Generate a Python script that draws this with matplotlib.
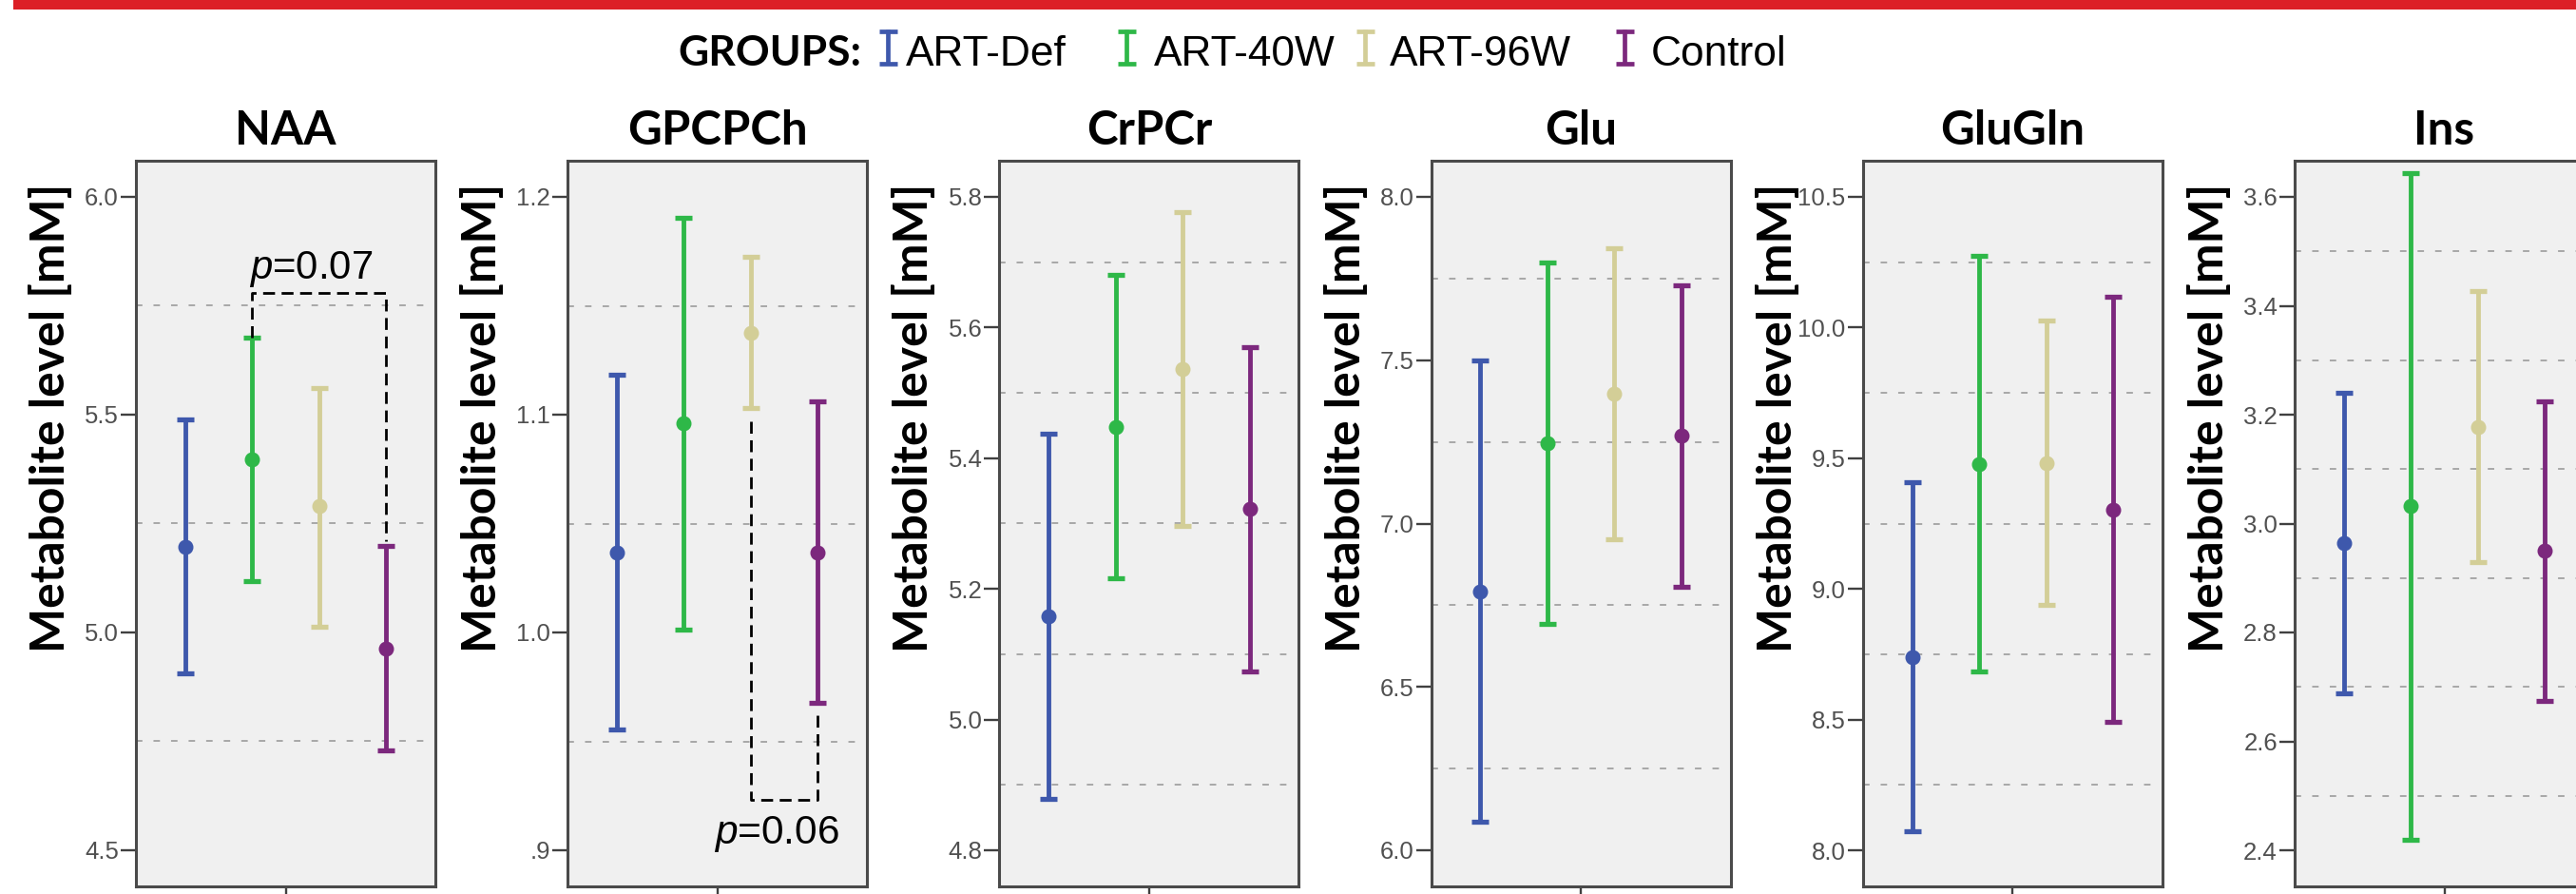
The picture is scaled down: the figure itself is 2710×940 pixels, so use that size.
import matplotlib
matplotlib.use("Agg")
import matplotlib.pyplot as plt
from matplotlib.patches import Rectangle
from matplotlib import font_manager as fm

W, H = 2710, 940
DPI = 100

# ---------------- data ----------------
groups = ["ART-Def", "ART-40W", "ART-96W", "Control"]
group_colors = ["#3E58AC", "#2EB848", "#D3CE97", "#7C287D"]
metabolites = ["NAA", "GPCPCh", "CrPCr", "Glu", "GluGln", "Ins"]

naa_mean = [5.197, 5.398, 5.290, 4.963]
naa_low = [4.907, 5.118, 5.013, 4.730]
naa_high = [5.489, 5.676, 5.562, 5.199]
naa_ticks = [4.5, 5.0, 5.5, 6.0]
naa_ticklabels = ["4.5", "5.0", "5.5", "6.0"]

gpc_mean = [1.0366, 1.0961, 1.1377, 1.0366]
gpc_low = [0.9553, 1.0015, 1.1029, 0.9675]
gpc_high = [1.1185, 1.1904, 1.1724, 1.1059]
gpc_ticks = [0.9, 1.0, 1.1, 1.2]
gpc_ticklabels = [".9", "1.0", "1.1", "1.2"]

cr_mean = [5.158, 5.4475, 5.537, 5.323]
cr_low = [4.879, 5.216, 5.297, 5.074]
cr_high = [5.437, 5.680, 5.777, 5.570]
cr_ticks = [4.8, 5.0, 5.2, 5.4, 5.6, 5.8]
cr_ticklabels = ["4.8", "5.0", "5.2", "5.4", "5.6", "5.8"]

glu_mean = [6.793, 7.246, 7.398, 7.269]
glu_low = [6.087, 6.692, 6.951, 6.806]
glu_high = [7.498, 7.800, 7.844, 7.730]
glu_ticks = [6.0, 6.5, 7.0, 7.5, 8.0]
glu_ticklabels = ["6.0", "6.5", "7.0", "7.5", "8.0"]

glx_mean = [8.739, 9.479, 9.481, 9.304]
glx_low = [8.072, 8.684, 8.939, 8.491]
glx_high = [9.407, 10.274, 10.027, 10.118]
glx_ticks = [8.0, 8.5, 9.0, 9.5, 10.0, 10.5]
glx_ticklabels = ["8.0", "8.5", "9.0", "9.5", "10.0", "10.5"]

ins_mean = [2.964, 3.032, 3.178, 2.951]
ins_low = [2.688, 2.419, 2.929, 2.675]
ins_high = [3.241, 3.644, 3.427, 3.225]
ins_ticks = [2.4, 2.6, 2.8, 3.0, 3.2, 3.4, 3.6]
ins_ticklabels = ["2.4", "2.6", "2.8", "3.0", "3.2", "3.4", "3.6"]

# significance annotations
naa_p_label = "$p$=0.07"
naa_p_pair = (2, 4)
naa_bracket_y = 5.78
naa_p_text_y = 5.812

gpc_p_label = "$p$=0.06"
gpc_p_pair = (3, 4)
gpc_bracket_y = 0.923
gpc_p_text_y = 0.903

ylabel = "Metabolite level [mM]"
legend_title = "GROUPS:"

panels = [
    (naa_mean, naa_low, naa_high, naa_ticks, naa_ticklabels),
    (gpc_mean, gpc_low, gpc_high, gpc_ticks, gpc_ticklabels),
    (cr_mean, cr_low, cr_high, cr_ticks, cr_ticklabels),
    (glu_mean, glu_low, glu_high, glu_ticks, glu_ticklabels),
    (glx_mean, glx_low, glx_high, glx_ticks, glx_ticklabels),
    (ins_mean, ins_low, ins_high, ins_ticks, ins_ticklabels),
]

# ---------------- fonts ----------------
def has_font(name):
    try:
        fm.findfont(fm.FontProperties(family=name), fallback_to_default=False)
        return True
    except Exception:
        return False

if has_font("Liberation Sans Narrow"):
    tick_font = "Liberation Sans Narrow"
    tick_size = 21
else:
    tick_font = "Liberation Sans"
    tick_size = 18.5
bold_font = "Lato"

plt.rcParams['mathtext.fontset'] = 'custom'
plt.rcParams['mathtext.it'] = tick_font + ':italic'
plt.rcParams['mathtext.rm'] = tick_font

# ---------------- layout ----------------
fig = plt.figure(figsize=(W / DPI, H / DPI), dpi=DPI)
fig.patch.set_facecolor("white")

PANEL_LEFT0 = 143
PANEL_STEP = 454.2
PANEL_W = 315
PANEL_TOP = 169
PANEL_BOT = 932
TICK_TOP = 207
TICK_BOT = 894

x_pos = [1, 2, 3, 4]

axes = []
ylabels = []
for i, (name, (mean, low, high, ticks, tlabels)) in enumerate(zip(metabolites, panels)):
    left = PANEL_LEFT0 + PANEL_STEP * i
    ax = fig.add_axes([left / W, (H - PANEL_BOT) / H, PANEL_W / W, (PANEL_BOT - PANEL_TOP) / H])
    axes.append(ax)
    ax.set_facecolor("#F0F0F0")
    span = ticks[-1] - ticks[0]
    pad = (TICK_TOP - PANEL_TOP) / (TICK_BOT - TICK_TOP) * span
    ax.set_ylim(ticks[0] - pad, ticks[-1] + pad)
    ax.set_xlim(0.265, 4.735)

    # dashed grid lines midway between major ticks
    for a, b in zip(ticks[:-1], ticks[1:]):
        ax.axhline((a + b) / 2, color="#A8A8A8", lw=1.4, ls=(0, (3.5, 6.0)), zorder=0.5)

    for xi, m, lo, hi, c in zip(x_pos, mean, low, high, group_colors):
        ax.errorbar([xi], [m], yerr=[[m - lo], [hi - m]], fmt="o", color=c,
                    ms=10.5, mec=c, elinewidth=3.5, capsize=6.8, capthick=3.8, zorder=3)

    ax.set_yticks(ticks)
    ax.set_yticklabels(tlabels, fontfamily=tick_font, fontsize=tick_size, color="#505050")
    ax.set_xticks([2.5])
    ax.set_xticklabels([""])
    ax.tick_params(axis="y", direction="out", length=11.5, width=1.7, color="#404040", pad=1.5)
    ax.tick_params(axis="x", direction="out", length=12, width=1.7, color="#404040")
    for s in ax.spines.values():
        s.set_color("#4A4A4A")
        s.set_linewidth(2.2)

    cx = (left + PANEL_W / 2) / W
    fig.text(cx, 1 - 152 / H, name, ha="center", va="baseline",
             fontfamily=bold_font, fontweight="bold", fontsize=35.5, color="black")
    ylabels.append(fig.text((left - 90) / W, 1 - 439 / H, ylabel, rotation=90,
                            ha="center", va="center", fontfamily=bold_font,
                            fontweight="bold", fontsize=36, color="black"))

# significance brackets
def bracket(ax, pair, y, ends, style_kw):
    xa, xb = pair
    ax.plot([xa, xa, xb, xb], [ends[0], y, y, ends[1]], **style_kw)

bk = dict(color="black", lw=2.0, ls=(0, (4.5, 2.5)), zorder=4, solid_capstyle="butt")
ax0 = axes[0]
bracket(ax0, naa_p_pair, naa_bracket_y,
        (naa_high[naa_p_pair[0] - 1], naa_high[naa_p_pair[1] - 1] + 0.01), bk)
pt0 = ax0.text(naa_p_pair[0] - 0.04, naa_p_text_y, naa_p_label, ha="left", va="baseline",
               fontfamily=tick_font, fontsize=30, color="black", zorder=5)

ax1 = axes[1]
bracket(ax1, gpc_p_pair, gpc_bracket_y,
        (gpc_low[gpc_p_pair[0] - 1] - 0.006, gpc_low[gpc_p_pair[1] - 1] - 0.003), bk)
pt1 = ax1.text((gpc_p_pair[0] + gpc_p_pair[1]) / 2 - 0.12, gpc_p_text_y, gpc_p_label,
               ha="center", va="baseline", fontfamily=tick_font, fontsize=30,
               color="black", zorder=5)

# ---------------- overlay: red bar + legend ----------------
ov = fig.add_axes([0, 0, 1, 1], zorder=10)
ov.set_xlim(0, W)
ov.set_ylim(H, 0)
ov.axis("off")
ov.patch.set_alpha(0)
ov.add_patch(Rectangle((14, 0), W - 14, 10, color="#DC1F26", lw=0))

gt = ov.text(713, 69, legend_title, ha="left", va="baseline", fontfamily=bold_font,
             fontweight="bold", fontsize=34, color="black")

marker_x = [934, 1185, 1436, 1709]
label_x = [953, 1214, 1462, 1737]
label_w = [184, 188, 188, 133]
leg_texts = []
for g, c, mx, lx in zip(groups, group_colors, marker_x, label_x):
    ov.plot([mx, mx], [31, 68], color=c, lw=3.4, solid_capstyle="butt")
    ov.plot([mx - 9.5, mx + 9.5], [32.5, 32.5], color=c, lw=3.4, solid_capstyle="butt")
    ov.plot([mx - 9.5, mx + 9.5], [66.5, 66.5], color=c, lw=3.4, solid_capstyle="butt")
    leg_texts.append(ov.text(lx, 69, g, ha="left", va="baseline", fontfamily=tick_font,
                             fontsize=31, color="black"))

# fit text sizes to the measured extents of the reference
fig.canvas.draw()
r = fig.canvas.get_renderer()

def fit(t, target, dim="w"):
    bb = t.get_window_extent(renderer=r)
    cur = bb.width if dim == "w" else bb.height
    if cur > 0:
        t.set_fontsize(t.get_fontsize() * target / cur)

fit(gt, 193)
for t, w in zip(leg_texts, label_w):
    fit(t, w)
avg = sum(t.get_fontsize() for t in leg_texts) / len(leg_texts)
for t in leg_texts:
    t.set_fontsize(avg)
for t in ylabels:
    fit(t, 493, "h")
fit(pt0, 130)
fit(pt1, 132)

fig.savefig("out.png", dpi=DPI)
